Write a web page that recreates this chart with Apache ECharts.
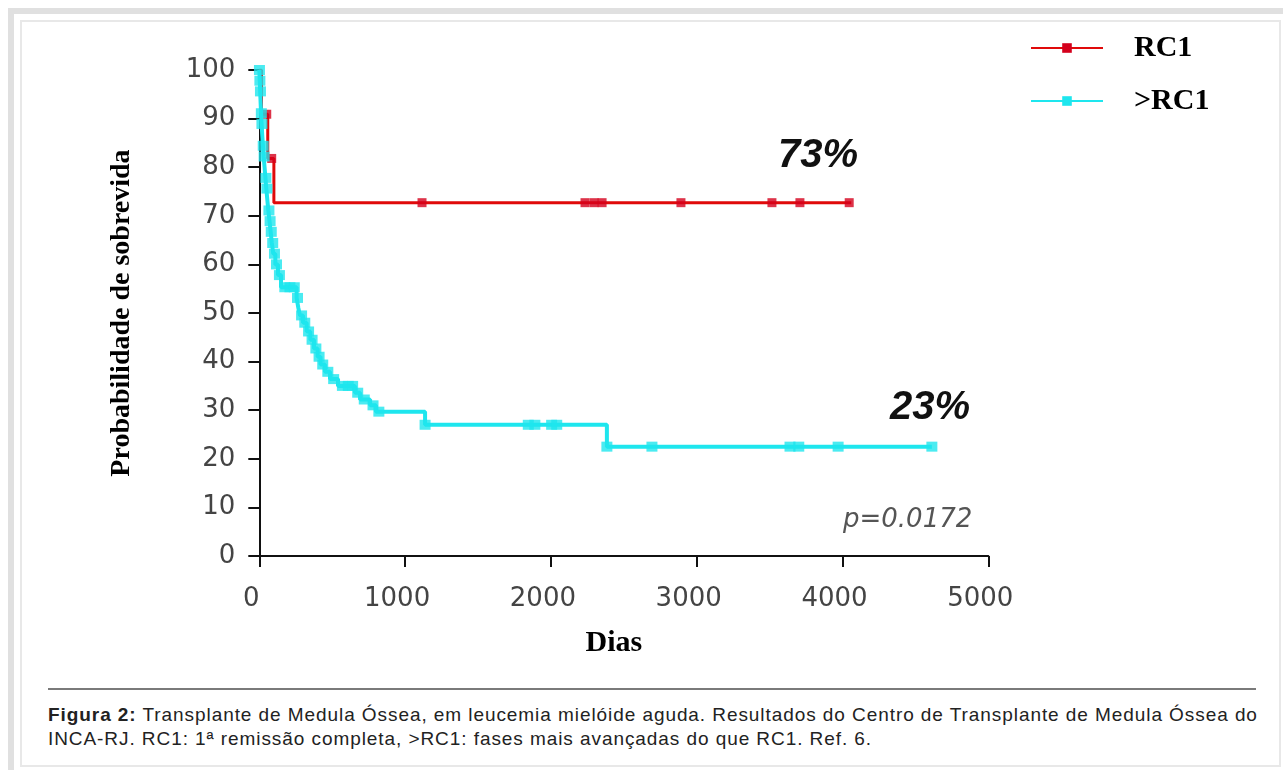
<!DOCTYPE html>
<html>
<head>
<meta charset="utf-8">
<script src="https://cdn.jsdelivr.net/npm/echarts@6/dist/echarts.min.js"></script>
<style>
html,body{margin:0;padding:0;width:1283px;height:770px;overflow:hidden;background:#fff;}
#outer{position:absolute;left:8px;top:8px;width:1300px;height:800px;border:6px solid #e0e0e0;box-sizing:border-box;}
#inner{position:absolute;left:20px;top:20px;width:1261px;height:747px;border:2px solid #e8e8e8;box-sizing:border-box;}
#chart{position:absolute;left:0;top:0;width:1283px;height:680px;}
#sep{position:absolute;left:48px;top:688px;width:1208px;height:2px;background:#7a7a7a;}
#cap{position:absolute;left:48px;top:703px;width:1228px;font-family:"Liberation Sans",Arial,sans-serif;font-size:19px;letter-spacing:0.93px;line-height:24px;color:#222;white-space:nowrap;}
</style>
</head>
<body>
<div id="outer"></div>
<div id="inner"></div>
<div id="chart"></div>
<div id="sep"></div>
<div id="cap"><b>Figura 2:</b> Transplante de Medula Óssea, em leucemia mielóide aguda. Resultados do Centro de Transplante de Medula Óssea do<br>INCA-RJ. RC1: 1ª remissão completa, &gt;RC1: fases mais avançadas do que RC1. Ref. 6.</div>
<script>
// ---- Data (days, survival %) ----
const seriesNames = ['RC1', '>RC1'];
const xTicks = [0, 1000, 2000, 3000, 4000, 5000];
const yTicks = [0, 10, 20, 30, 40, 50, 60, 70, 80, 90, 100];

// Kaplan-Meier step points for RC1
const rc1Steps = [[0,100],[15,90.9],[58,81.8],[100,72.7],[4060,72.7]];
// censored observations for RC1
const rc1Censor = [[51,90.9],[85,81.8],[1116,72.7],[2234,72.7],[2296,72.7],[2351,72.7],[2892,72.7],[3516,72.7],[3708,72.7],[4046,72.7]];

// Kaplan-Meier step points for >RC1
const gtSteps = [[0,100],[3,97.8],[6,95.6],[9,93.3],[12,91.1],[16,88.9],[20,86.7],[25,84.4],[30,82.2],[36,80],[42,77.8],[48,75.6],[55,73.3],[62,71.1],[70,68.9],[78,66.7],[86,64.4],[96,62.2],[110,60],[128,57.8],[149,55.3],[256,53.1],[268,51],[279,49.5],[300,48],[325,46.2],[350,44.5],[375,42.7],[400,41],[420,39.4],[450,37.9],[485,36.4],[540,35],[656,33.6],[691,32.2],[760,31],[800,29.7],[1137,27],[2384,22.5],[4613,22.5]];
// censored observations for >RC1
const gtCensor = [[1,100],[4,97.8],[8,95.6],[14,91.1],[18,88.9],[27,84.4],[33,82.2],[45,77.8],[52,75.6],[66,71.1],[74,68.9],[82,66.7],[92,64.4],[104,62.2],[118,60],[138,57.8],[175,55.3],[210,55.3],[240,55.3],[262,53.1],[290,49.5],[312,48],[338,46.2],[362,44.5],[388,42.7],[410,41],[435,39.4],[470,37.9],[510,36.4],[570,35],[610,35],[640,35],[675,33.6],[720,32.2],[780,31],[820,29.7],[1137,27],[1845,27],[1890,27],[2005,27],[2040,27],[2384,22.5],[2693,22.5],[3640,22.5],[3700,22.5],[3970,22.5],[4613,22.5]];

const redLine = '#e00a0a', redMark = '#d4001c';
const cyan = '#1ee6ee';

const chart = echarts.init(document.getElementById('chart'), null, {renderer:'canvas'});
chart.setOption({
  animation: false,
  grid: {left: 259.3, right: 1283 - 988.3, top: 70, bottom: 680 - 556},
  legend: {
    orient: 'vertical', left: 1030, top: 28, padding: 0,
    itemWidth: 72, itemHeight: 12, itemGap: 13,
    data: seriesNames,
    textStyle: {fontFamily: '"Liberation Serif", serif', fontWeight: 'bold', fontSize: 30, color: '#000', lineHeight: 40, padding: [0,0,0,26]}
  },
  xAxis: {
    type: 'value', min: xTicks[0], max: xTicks[xTicks.length-1], interval: 1000,
    name: 'Dias', nameLocation: 'middle', nameGap: 72,
    nameTextStyle: {fontFamily: '"Liberation Serif", serif', fontWeight: 'bold', fontSize: 30, color: '#000', padding: [0,20,0,0]},
    axisLine: {onZero: false, lineStyle: {color: '#111', width: 2}},
    axisTick: {length: 11, lineStyle: {color: '#111', width: 2}},
    axisLabel: {margin: 30, fontFamily: '"DejaVu Sans", sans-serif', fontSize: 26, color: '#444', padding: [0,16,0,0],
                formatter: v => String(v)},
    splitLine: {show: false}
  },
  yAxis: {
    type: 'value', min: yTicks[0], max: yTicks[yTicks.length-1], interval: 10,
    name: 'Probabilidade de sobrevida', nameLocation: 'middle', nameGap: 124,
    nameTextStyle: {fontFamily: '"Liberation Serif", serif', fontWeight: 'bold', fontSize: 28, color: '#000'},
    axisLine: {onZero: false, lineStyle: {color: '#111', width: 2}},
    axisTick: {length: 11, lineStyle: {color: '#111', width: 2}},
    axisLabel: {margin: 24, fontFamily: '"DejaVu Sans", sans-serif', fontSize: 26, color: '#444'},
    splitLine: {show: false}
  },
  series: [
    {name: 'RC1', type: 'line', step: 'end', data: rc1Steps, symbol: 'rect', symbolSize: 9, showSymbol: false,
     lineStyle: {color: redLine, width: 3}, itemStyle: {color: redMark}, z: 2},
    {name: 'RC1 censor', type: 'scatter', data: rc1Censor, symbol: 'rect', symbolSize: [9,9],
     itemStyle: {color: redMark}, z: 3},
    {name: '>RC1', type: 'line', step: 'end', data: gtSteps, symbol: 'rect', symbolSize: 9, showSymbol: false,
     lineStyle: {color: cyan, width: 4}, itemStyle: {color: cyan}, z: 4},
    {name: '>RC1 censor', type: 'scatter', data: gtCensor, symbol: 'rect', symbolSize: [11,10],
     itemStyle: {color: cyan}, z: 5}
  ],
  graphic: [
    {type: 'text', x: 778, y: 156, style: {text: '73%', font: 'italic bold 40px "Liberation Sans", Arial, sans-serif', fill: '#111', verticalAlign: 'middle'}},
    {type: 'text', x: 890, y: 408, style: {text: '23%', font: 'italic bold 40px "Liberation Sans", Arial, sans-serif', fill: '#111', verticalAlign: 'middle'}},
    {type: 'text', x: 843, y: 520, style: {text: 'p=0.0172', font: 'italic 26px "DejaVu Sans", sans-serif', fill: '#555', verticalAlign: 'middle'}}
  ]
});
</script>
</body>
</html>
